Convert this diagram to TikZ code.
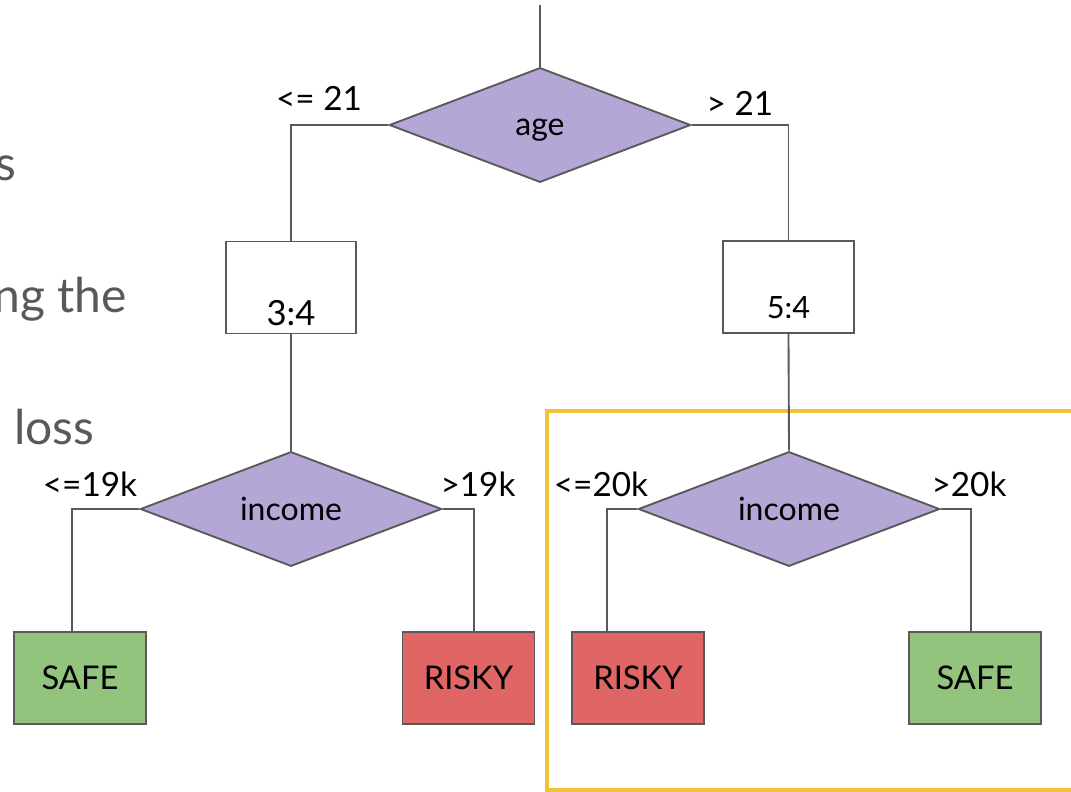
\documentclass[tikz,border=0pt]{standalone}
\usepackage{fontspec}
\setmainfont{Lato}
\usetikzlibrary{shapes.geometric}
\definecolor{edge}{HTML}{595959}
\definecolor{split}{HTML}{B4A7D6}
\definecolor{safe}{HTML}{93C47D}
\definecolor{risky}{HTML}{E06666}
\definecolor{frame}{HTML}{F1C232}
\definecolor{prose}{HTML}{595959}
\tikzset{
  splitnode/.style={diamond, aspect=2.6, draw=edge, fill=split, line width=1.4pt, inner sep=0pt,
    minimum width=226pt, minimum height=86pt, text depth=0pt,
    font=\fontsize{24}{26}\selectfont},
  countbox/.style={rectangle, draw=edge, fill=white, line width=1.4pt, inner sep=0pt,
    minimum width=98pt, minimum height=69pt},
  leafbox/.style={rectangle, draw=edge, line width=1.4pt, inner sep=0pt,
    minimum width=99pt, minimum height=69pt, font=\fontsize{24.5}{26}\selectfont},
  branch/.style={draw=edge, line width=1.4pt},
  cond/.style={inner sep=0pt, anchor=base},
  prosetext/.style={inner sep=0pt, text=prose, font=\fontsize{36}{40}\selectfont},
}
\begin{document}
\begin{tikzpicture}[x=0.75pt, y=-0.75pt]
\useasboundingbox (0,0) rectangle (1071,792);

% body text lines running in from the left edge
\node[prosetext, anchor=base east] (p1) at (17,180) {s};
\node[prosetext, anchor=base east] (p2) at (127,312) {ng the};
\node[prosetext, anchor=base west] (p3) at (14,444) {loss};

% highlight frame around the right subtree
\draw[frame, line width=2.4pt] (1075,411) -- (547,411) -- (547,790) -- (1075,790);

% root
\coordinate (top) at (540,5);
\node[splitnode] (age) at (540,125) {};
\node[inner sep=0pt, anchor=base, font=\fontsize{24}{26}\selectfont] (tage) at (540,135) {age};
\draw[branch] (top) -- (age.north);

% second level
\node[countbox] (c34) at (291,287.5) {};
\node[inner sep=0pt, font=\fontsize{26}{28}\selectfont] (t34) at (291,313) {3:4};
\node[countbox] (c54) at (788.5,287) {};
\node[inner sep=0pt, font=\fontsize{23}{25}\selectfont] (t54) at (788.5,308) {5:4};

\draw[branch] (age.west) -| (c34.north);
\draw[branch] (age.east) -| (c54.north);
\node[cond, font=\fontsize{25}{27}\selectfont] (lage) at (319,110) {<= 21};
\node[cond, font=\fontsize{25}{27}\selectfont] (rage) at (740,115) {> 21};

% third level
\node[splitnode] (incL) at (291,509) {income};
\node[splitnode] (incR) at (789,509) {income};
\draw[branch] (c34.south) -- (incL.north);
\draw[branch] (c54.south) -- (incR.north);

\node[cond, font=\fontsize{25}{27}\selectfont] (l19) at (90,496) {<=19k};
\node[cond, font=\fontsize{25}{27}\selectfont] (r19) at (478,496) {>19k};
\node[cond, font=\fontsize{25}{27}\selectfont] (l20) at (601,496) {<=20k};
\node[cond, font=\fontsize{25}{27}\selectfont] (r20) at (969,496) {>20k};

% leaves
\node[leafbox, fill=safe] (s1) at (80,678) {SAFE};
\node[leafbox, fill=risky] (r1) at (468.5,678) {RISKY};
\node[leafbox, fill=risky] (r2) at (638,678) {RISKY};
\node[leafbox, fill=safe] (s2) at (975,678) {SAFE};

\draw[branch] (incL.west) -| ([xshift=-6pt]s1.north);
\draw[branch] (incL.east) -| ([xshift=4pt]r1.north);
\draw[branch] (incR.west) -| ([xshift=-23pt]r2.north);
\draw[branch] (incR.east) -| ([xshift=-3pt]s2.north);
\end{tikzpicture}
\end{document}
